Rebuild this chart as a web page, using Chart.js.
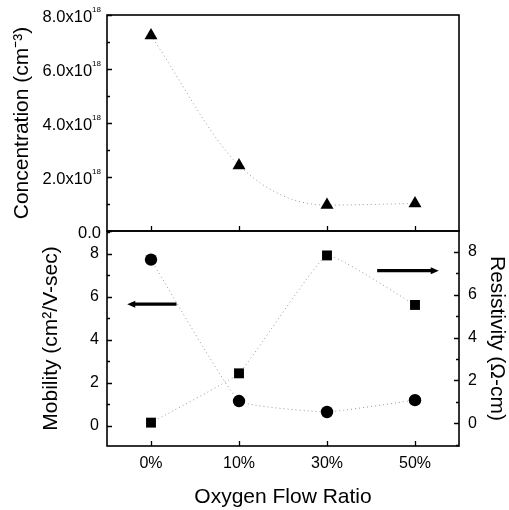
<!DOCTYPE html>
<html><head><meta charset="utf-8">
<script src="https://cdn.jsdelivr.net/npm/chart.js@4/dist/chart.umd.min.js"></script>
<style>
html,body{margin:0;padding:0;background:#fff;}
#wrap{position:relative;width:509px;height:510px;overflow:hidden;}
canvas{position:absolute;left:0;top:0;}
</style></head><body>
<div id="wrap"><canvas id="bot" width="509" height="510"></canvas><canvas id="topc" width="509" height="510"></canvas></div>
<script>
// ---- data ----
const categories = ['0%', '10%', '30%', '50%'];
const concentration = [7.24e18, 2.43e18, 0.96e18, 1.02e18];
const mobility = [7.72, 1.15, 0.64, 1.19];
const resistivity = [0.03, 2.33, 7.83, 5.52];
const concTicks = [0, 2e18, 4e18, 6e18, 8e18];
const concTickLabels = ['0.0', '2.0x10', '4.0x10', '6.0x10', '8.0x10'];
const concTickExp = ['', '18', '18', '18', '18'];
const mobTicks = [0, 2, 4, 6, 8];
const resTicks = [0, 2, 4, 6, 8];
// arrow annotations in data units: [xStart, xEnd, yValue, axis]
const arrows = [
  [0.29, -0.27, 5.65, 'yL'],
  [2.57, 3.27, 7.12, 'yR']
];

const FONT = '"Liberation Sans", Arial, Helvetica, sans-serif';
Chart.defaults.font.family = FONT;
Chart.defaults.color = '#000';

function tickMarks(ctx, scale, values, len, side, area) {
  ctx.beginPath();
  values.forEach(v => {
    if (side === 'left' || side === 'right') {
      const y = Math.round(scale.getPixelForValue(v)) + 0.5;
      const x0 = side === 'left' ? area.left : area.right;
      const dx = side === 'left' ? len : -len;
      ctx.moveTo(x0, y); ctx.lineTo(x0 + dx, y);
    } else {
      const x = Math.round(scale.getPixelForValue(v)) + 0.5;
      ctx.moveTo(x, area.bottom); ctx.lineTo(x, area.bottom - len);
    }
  });
  ctx.stroke();
}
function minorsOf(scale, step, majors) {
  const out = [];
  for (let v = Math.ceil(scale.min / step) * step; v <= scale.max + 1e-9 * step; v += step) {
    if (!majors.some(m => Math.abs(m - v) < step * 1e-6)) out.push(v);
  }
  return out;
}
function frame(ctx, area) {
  ctx.save();
  ctx.strokeStyle = '#000';
  ctx.lineWidth = 1.6;
  ctx.strokeRect(area.left, area.top, area.right - area.left, area.bottom - area.top);
  ctx.restore();
}

const topPlugin = {
  id: 'topDeco',
  afterDraw(chart) {
    const ctx = chart.ctx, area = chart.chartArea;
    const y = chart.scales.y, x = chart.scales.x;
    frame(ctx, area);
    ctx.save();
    ctx.strokeStyle = '#000'; ctx.lineWidth = 1.3;
    tickMarks(ctx, y, concTicks, 5, 'left', area);
    tickMarks(ctx, y, minorsOf(y, 1e18, concTicks), 3, 'left', area);
    tickMarks(ctx, x, categories.map((c, i) => i), 5, 'bottom', area);
    // tick labels with superscript exponent
    ctx.fillStyle = '#000';
    ctx.textBaseline = 'middle';
    concTicks.forEach((v, i) => {
      const py = y.getPixelForValue(v) + 2;
      const right = 101;
      ctx.font = '8px ' + FONT;
      const ew = concTickExp[i] ? ctx.measureText(concTickExp[i]).width : 0;
      ctx.textAlign = 'right';
      if (concTickExp[i]) ctx.fillText(concTickExp[i], right, py - 7);
      ctx.font = '16.5px ' + FONT;
      ctx.fillText(concTickLabels[i], right - ew, py);
    });
    ctx.restore();
  }
};

const botPlugin = {
  id: 'botDeco',
  afterDraw(chart) {
    const ctx = chart.ctx, area = chart.chartArea;
    const yL = chart.scales.yL, yR = chart.scales.yR, x = chart.scales.x;
    frame(ctx, area);
    ctx.save();
    ctx.strokeStyle = '#000'; ctx.lineWidth = 1.3;
    tickMarks(ctx, yL, mobTicks, 5, 'left', area);
    tickMarks(ctx, yL, minorsOf(yL, 1, mobTicks), 3, 'left', area);
    tickMarks(ctx, yR, resTicks, 5, 'right', area);
    tickMarks(ctx, yR, minorsOf(yR, 1, resTicks), 3, 'right', area);
    tickMarks(ctx, x, categories.map((c, i) => i), 5, 'bottom', area);
    // arrows
    ctx.fillStyle = '#000';
    ctx.lineWidth = 3.2;
    arrows.forEach(a => {
      const sc = chart.scales[a[3]];
      const x1 = x.getPixelForValue(a[0]), x2 = x.getPixelForValue(a[1]);
      const py = sc.getPixelForValue(a[2]);
      const dir = Math.sign(x2 - x1);
      ctx.beginPath();
      ctx.moveTo(x1, py); ctx.lineTo(x2 - dir * 6, py);
      ctx.stroke();
      ctx.beginPath();
      ctx.moveTo(x2, py);
      ctx.lineTo(x2 - dir * 8, py - 3.5);
      ctx.lineTo(x2 - dir * 8, py + 3.5);
      ctx.closePath();
      ctx.fill();
    });
    ctx.restore();
  }
};

const lineStyle = {
  borderColor: '#999',
  borderWidth: 1,
  borderDash: [1, 3],
  pointBackgroundColor: '#000',
  pointBorderColor: '#000',
  pointBorderWidth: 0,
};

// ---- top chart ----
new Chart(document.getElementById('topc'), {
  type: 'line',
  data: {
    labels: categories,
    datasets: [Object.assign({
      data: concentration,
      pointStyle: 'triangle',
      pointRadius: 7.5,
      cubicInterpolationMode: 'monotone'
    }, lineStyle)]
  },
  options: {
    responsive: false,
    animation: false,
    layout: { padding: { top: 15, right: 50, bottom: 279, left: 0 } },
    plugins: { legend: { display: false }, tooltip: { enabled: false } },
    scales: {
      x: { type: 'category', offset: true, display: false },
      y: {
        min: 0, max: 8e18,
        afterFit: s => { s.width = 107; },
        afterBuildTicks: s => { s.ticks = concTicks.map(v => ({ value: v })); },
        grid: { display: false, drawTicks: false },
        border: { display: false },
        ticks: { display: false },
        title: { display: true, text: 'Concentration (cm\u207B\u00B3)', font: { size: 21 }, padding: { top: 10 } }
      }
    }
  },
  plugins: [topPlugin]
});

// ---- bottom chart ----
new Chart(document.getElementById('bot'), {
  type: 'line',
  data: {
    labels: categories,
    datasets: [
      Object.assign({ data: mobility, yAxisID: 'yL', pointStyle: 'circle', pointRadius: 6.2, tension: 0.1 }, lineStyle),
      Object.assign({ data: resistivity, yAxisID: 'yR', pointStyle: 'rect', pointRadius: 7, tension: 0.1 }, lineStyle)
    ]
  },
  options: {
    responsive: false,
    animation: false,
    layout: { padding: { top: 231, right: 0, bottom: 0, left: 0 } },
    plugins: { legend: { display: false }, tooltip: { enabled: false } },
    scales: {
      x: {
        type: 'category', offset: true,
        afterFit: s => { s.height = 64; },
        grid: { display: false, drawTicks: false },
        border: { display: false },
        ticks: { font: { size: 16 }, padding: 8, maxRotation: 0 },
        title: { display: true, text: 'Oxygen Flow Ratio', font: { size: 21 }, padding: { top: 0, bottom: 0 } }
      },
      yL: {
        position: 'left',
        min: -0.94, max: 9.05,
        afterFit: s => { s.width = 107; },
        afterBuildTicks: s => { s.ticks = mobTicks.map(v => ({ value: v })); },
        grid: { display: false, drawTicks: false },
        border: { display: false },
        ticks: { font: { size: 16 }, padding: 8 },
        title: { display: true, text: 'Mobility (cm\u00B2/V-sec)', font: { size: 21 }, padding: { top: 39 } }
      },
      yR: {
        position: 'right',
        min: -1.06, max: 8.97,
        afterFit: s => { s.width = 50; },
        afterBuildTicks: s => { s.ticks = resTicks.map(v => ({ value: v })); },
        grid: { display: false, drawTicks: false },
        border: { display: false },
        ticks: { font: { size: 16 }, padding: 9 },
        title: { display: true, text: 'Resistivity (\u03A9-cm)', font: { size: 21 }, padding: { top: 0 } }
      }
    }
  },
  plugins: [botPlugin]
});
</script>
</body></html>
